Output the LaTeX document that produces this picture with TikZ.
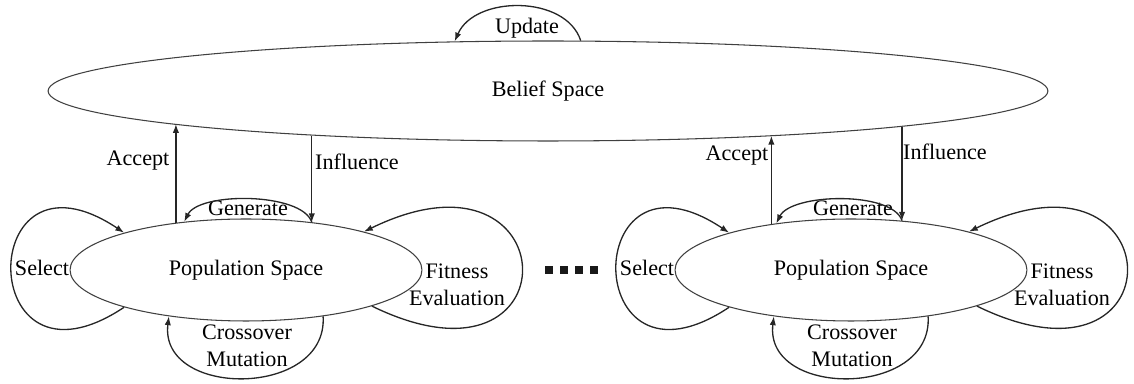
\documentclass[tikz,border=0pt]{standalone}
\usepackage{fontspec}
\setmainfont{Liberation Serif}
\usetikzlibrary{shapes.geometric,arrows.meta}

\newcommand{\diagfont}{\rmfamily\fontsize{12.6}{15.2}\selectfont}

\begin{document}
\begin{tikzpicture}[x=0.02cm, y=0.02cm, line join=round]
  % one unit is one pixel of the reference, y grows upwards (negative rows)
  \tikzset{
    space_node/.style={ellipse, draw=black!75, line width=0.6pt, inner sep=0pt, font=\diagfont},
    loop_edge/.style={draw=black!85, line width=0.75pt, -{Latex[length=5pt,width=3.6pt]}},
    link_edge/.style={draw=black!85, line width=0.75pt, -{Latex[length=5pt,width=3.6pt]}},
    label_text/.style={inner sep=0pt, font=\diagfont, align=center},
  }
  \useasboundingbox (0,0) rectangle (1134,-384);

  \node[space_node, minimum width=20cm, minimum height=2cm] (belief) at (548,-91) {Belief Space};
  \node[label_text] (update) at (527,-28) {Update};
  \draw[loop_edge] (belief.57) .. controls +(-15,46) and +(20,46) .. (belief.152);

  % the two population spaces, the second one shifted to the right
  \foreach \n/\shift/\acc/\inf/\gen/\bacc/\binf in {
    A/0/146/36/142/185/191,
    B/605/150/44/148/349/354
  }{
    \node[space_node, minimum width=7.04cm, minimum height=2.04cm] (pop\n) at (246+\shift,-270) {Population Space};

    \node[label_text] (select\n)    at (42+\shift,-268)  {Select};
    \node[label_text] (generate\n)  at (248+\shift,-208) {Generate};
    \node[label_text] (fitness\n)   at (457+\shift,-285) {Fitness\\Evaluation};
    \node[label_text] (crossover\n) at (247+\shift,-346) {Crossover\\Mutation};

    \draw[loop_edge] (pop\n.197) .. controls +(-150,-100) and +(-150,100) .. (pop\n.163);
    \draw[loop_edge] (pop\n.344) .. controls +(205,-100) and +(205,100) .. (pop\n.18);
    \draw[loop_edge] (pop\n.\inf) .. controls +(-10,30) and +(15,30) .. (pop\n.\gen);
    \draw[loop_edge] (pop\n.329) .. controls +(5,-82) and +(-10,-82) .. (pop\n.211);

    \draw[link_edge] (pop\n.\acc) -- (pop\n.\acc |- belief.\bacc);
    \draw[link_edge] (belief.\binf -| pop\n.\inf) -- (pop\n.\inf);
  }

  \node[label_text] (acceptA)    at (138,-161) {Accept};
  \node[label_text] (influenceA) at (357,-162) {Influence};
  \node[label_text] (acceptB)    at (737,-156) {Accept};
  \node[label_text] (influenceB) at (945,-152) {Influence};

  % the dots between the two population spaces
  \foreach \x in {549,564,579,594}
    \fill[black!90] (\x-4,-266) rectangle (\x+4,-274);
\end{tikzpicture}
\end{document}
